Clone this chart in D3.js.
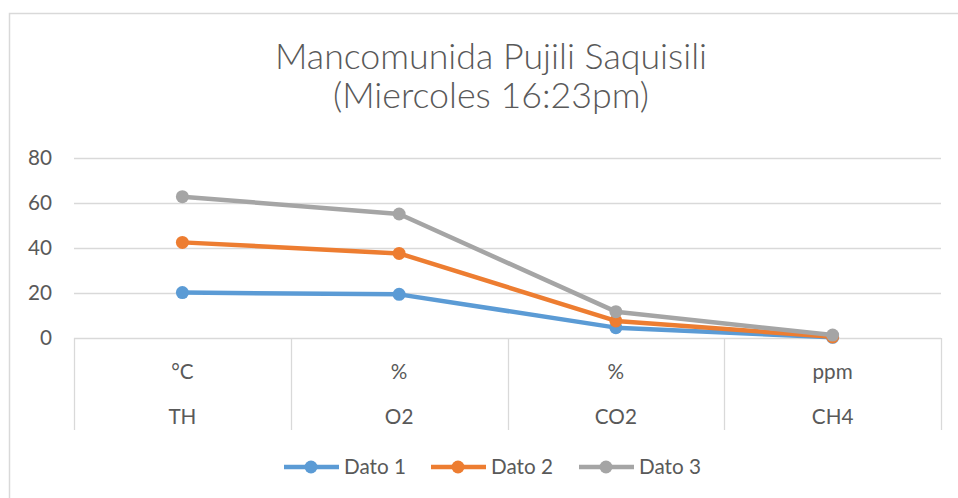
<!DOCTYPE html>
<html>
<head>
<meta charset="utf-8">
<script src="https://cdn.jsdelivr.net/npm/d3@7"></script>
<style>
  body { margin: 0; background: #fff; }
  svg { display: block; font-family: Lato, "Open Sans", sans-serif; }
</style>
</head>
<body>
<svg id="chart" width="958" height="498"></svg>
<script>
// data
const categories = ["TH", "O2", "CO2", "CH4"];
const units = ["°C", "%", "%", "ppm"];
const seriesNames = ["Dato 1", "Dato 2", "Dato 3"];
const dato1 = [20.2, 19.4, 4.6, 0.3];
const dato2 = [42.5, 37.6, 7.6, 0.5];
const dato3 = [62.8, 55.1, 11.7, 1.3];
const yTicks = [0, 20, 40, 60, 80];
const colors = ["#5B9BD5", "#ED7D31", "#A5A5A5"];

const series = [dato1, dato2, dato3].map((vals, i) => ({name: seriesNames[i], values: vals, color: colors[i]}));

const svg = d3.select("#chart");
const textColor = "#595959";

// pick a font size so a string measures a given width
function fitSize(str, targetWidth, weight) {
  const t = svg.append("text").style("font-size", "100px")
    .style("font-weight", weight || 400).text(str);
  const w = t.node().getComputedTextLength();
  t.remove();
  return 100 * targetWidth / w;
}
const labelSize = fitSize("Dato 1", 62) + "px";
const titleSize = fitSize("Mancomunida Pujili Saquisili", 432, 300) + "px";

// chart frame (only top and left edges visible in reference)
svg.append("path")
  .attr("d", "M9.5,498 V13.5 H958")
  .attr("fill", "none").attr("stroke", "#D9D9D9").attr("stroke-width", 1.5);

const plotLeft = 74, plotRight = 941, plotTop = 158, plotBottom = 338;

const x = d3.scaleBand().domain(categories).range([plotLeft, plotRight]);
const y = d3.scaleLinear().domain([0, 80]).range([plotBottom, plotTop]);

// gridlines
svg.append("g").selectAll("line").data(yTicks).join("line")
  .attr("x1", plotLeft).attr("x2", plotRight)
  .attr("y1", d => Math.round(y(d)) + 0.5).attr("y2", d => Math.round(y(d)) + 0.5)
  .attr("stroke", "#D9D9D9").attr("stroke-width", 1.3);

// y axis labels
svg.append("g").selectAll("text").data(yTicks).join("text")
  .attr("x", 52).attr("y", d => y(d))
  .attr("dy", "0.35em").attr("text-anchor", "end")
  .attr("fill", textColor).style("font-size", labelSize)
  .text(d => d);

// category separators (multi-level axis)
const bounds = categories.map(c => x(c)).concat([plotRight]);
svg.append("g").selectAll("line").data(bounds).join("line")
  .attr("x1", d => Math.round(d) + 0.5).attr("x2", d => Math.round(d) + 0.5)
  .attr("y1", plotBottom).attr("y2", 430)
  .attr("stroke", "#D9D9D9").attr("stroke-width", 1.3);

svg.append("g").selectAll("text").data(units).join("text")
  .attr("x", (d, i) => x(categories[i]) + x.bandwidth() / 2)
  .attr("y", 372).attr("dy", "0.35em").attr("text-anchor", "middle")
  .attr("fill", textColor).style("font-size", labelSize)
  .text(d => d);

svg.append("g").selectAll("text").data(categories).join("text")
  .attr("x", d => x(d) + x.bandwidth() / 2)
  .attr("y", 417).attr("dy", "0.35em").attr("text-anchor", "middle")
  .attr("fill", textColor).style("font-size", labelSize)
  .text(d => d);

// lines and markers
const line = d3.line()
  .x((d, i) => x(categories[i]) + x.bandwidth() / 2)
  .y(d => y(d));

const sg = svg.append("g").selectAll("g").data(series).join("g");
sg.append("path")
  .attr("d", d => line(d.values))
  .attr("fill", "none").attr("stroke", d => d.color)
  .attr("stroke-width", 4.5).attr("stroke-linejoin", "round");
sg.each(function(s) {
  d3.select(this).selectAll("circle").data(s.values).join("circle")
    .attr("cx", (d, i) => x(categories[i]) + x.bandwidth() / 2)
    .attr("cy", d => y(d))
    .attr("r", 6.5)
    .attr("fill", s.color);
});

// title, two separate lines
svg.append("text").attr("x", 491).attr("y", 69)
  .attr("text-anchor", "middle").attr("fill", textColor)
  .style("font-size", titleSize).style("font-weight", 300)
  .text("Mancomunida Pujili Saquisili");
svg.append("text").attr("x", 491).attr("y", 108)
  .attr("text-anchor", "middle").attr("fill", textColor)
  .style("font-size", titleSize).style("font-weight", 300)
  .text("(Miercoles 16:23pm)");

// legend
const legendX = [284, 431, 579];
const lg = svg.append("g").selectAll("g").data(series).join("g")
  .attr("transform", (d, i) => `translate(${legendX[i]},467)`);
lg.append("line").attr("x1", 0).attr("x2", 55)
  .attr("stroke", d => d.color).attr("stroke-width", 4.5);
lg.append("circle").attr("cx", 27).attr("r", 6.5).attr("fill", d => d.color);
lg.append("text").attr("x", 60).attr("dy", "0.35em")
  .attr("fill", textColor).style("font-size", labelSize)
  .text(d => d.name);
</script>
</body>
</html>
